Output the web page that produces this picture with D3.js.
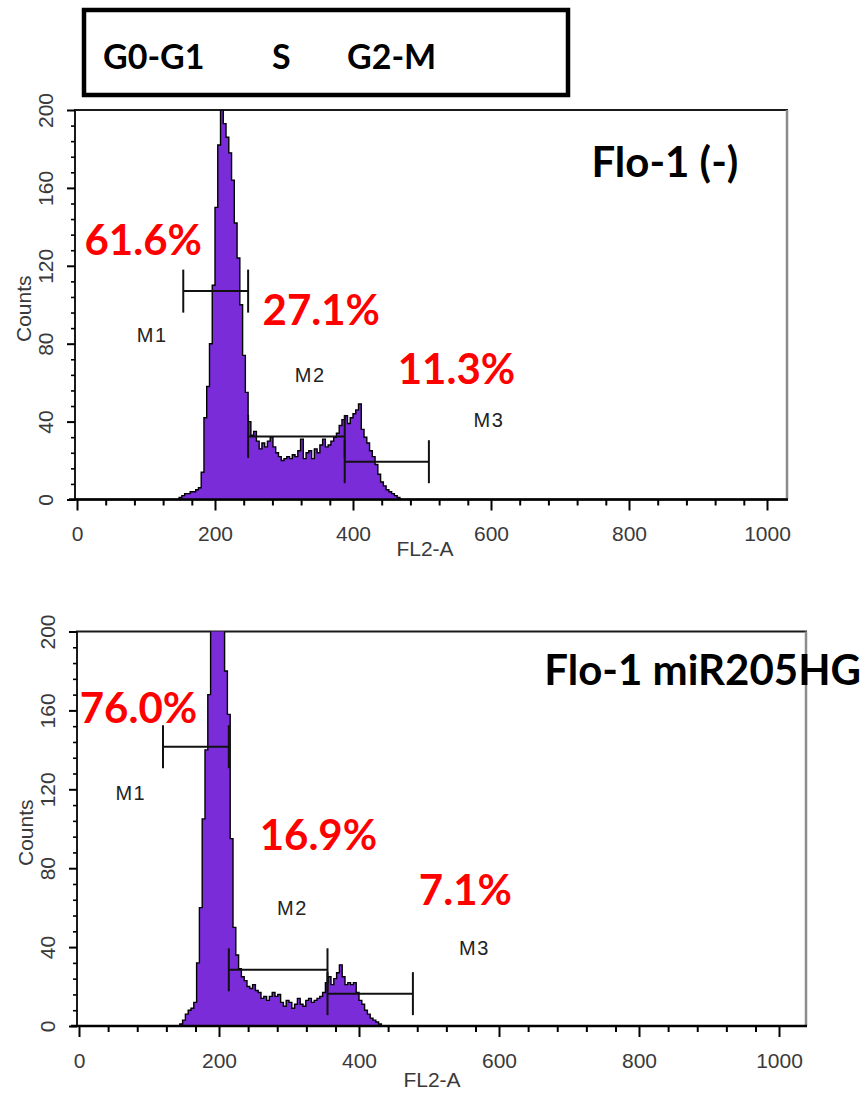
<!DOCTYPE html>
<html>
<head>
<meta charset="utf-8">
<script src="https://cdn.jsdelivr.net/npm/d3@7"></script>
<style>
  html, body { margin: 0; padding: 0; background: #fff; }
  svg { display: block; }
</style>
</head>
<body>
<svg id="chart" width="866" height="1098"></svg>
<script>
// Cell-cycle phases named in the legend box
const phases = ["G0-G1", "S", "G2-M"];

// FL2-A DNA-content histograms, channel bins of width 4
const binWidth = 4;

const ctrlStart = 148;
const ctrlCounts = [
  1, 2, 3, 3, 4, 4, 5, 6, 14, 42, 58, 80, 110, 150, 182, 200,
  193, 186, 178, 164, 142, 124, 100, 74, 55, 40, 33, 35, 30, 26, 29, 27,
  30, 32, 27, 24, 22, 20, 21, 22, 21, 23, 22, 25, 31, 21, 24, 25,
  21, 26, 24, 28, 31, 27, 28, 30, 32, 34, 38, 41, 43, 39, 42, 44,
  46, 49, 36, 32, 29, 25, 22, 18, 13, 9, 7, 5, 4, 3, 2, 1, 0
];

const mirStart = 144;
const mirCounts = [
  1, 3, 6, 8, 9, 12, 32, 60, 105, 140, 168, 215, 230, 230, 220, 205,
  180, 158, 95, 50, 36, 29, 25, 23, 20, 19, 21, 18, 17, 14, 15, 13,
  15, 17, 15, 16, 12, 10, 13, 12, 9, 11, 14, 11, 10, 13, 14, 12,
  13, 14, 15, 17, 22, 25, 21, 24, 27, 31, 25, 21, 22, 21, 22, 17,
  13, 11, 8, 6, 4, 3, 2, 1, 0
];

// Marker gates: [from channel, to channel, drawn at count level]
const gateNames = ["M1", "M2", "M3"];
const ctrlGates = [[154, 248, 107], [248, 388, 32.4], [388, 510, 19.4]];
const mirGates = [[120, 214, 141.6], [214, 355, 28.5], [355, 477, 16.4]];

// Percentage of cells in each gate
const ctrlPercent = ["61.6%", "27.1%", "11.3%"];
const mirPercent = ["76.0%", "16.9%", "7.1%"];

const sampleNames = ["Flo-1 (-)", "Flo-1 miR205HG"];

// Axis ticks
const xMajorTicks = [0, 200, 400, 600, 800, 1000];
const yMajorTicks = [0, 40, 80, 120, 160, 200];
const xTitle = "FL2-A";
const yTitle = "Counts";

// ---- layout ----
const svg = d3.select("#chart");
const histFill = "#7a2cd8";
const red = "#ff0000";
const tickFont = "'Liberation Sans', Arial, sans-serif";
const boldFont = "Lato, 'Open Sans', sans-serif";
const tickColor = "#3a3a3a";

// legend box with phase names
svg.append("rect")
  .attr("x", 84).attr("y", 10).attr("width", 484).attr("height", 85)
  .attr("fill", "#fff").attr("stroke", "#000").attr("stroke-width", 4.5);
const phaseX = [103, 272, 347];
svg.selectAll("text.phase").data(phases).join("text")
  .attr("class", "phase")
  .attr("x", (d, i) => phaseX[i]).attr("y", 69)
  .style("font-family", boldFont).style("font-weight", 700)
  .style("font-size", "34px").attr("fill", "#000")
  .text(d => d);

const panels = [
  {
    name: sampleNames[0], start: ctrlStart, counts: ctrlCounts,
    gates: ctrlGates, pct: ctrlPercent,
    left: 75, right: 787, top: 110, bottom: 499.5, x0: 77, pxPerUnit: 0.69,
    xTitleGap: 56,
    pctPos: [[96, 125.5], [354, 89.6], [550, 59.3]],
    gatePos: [[109, 80.9], [338, 60.3], [597, 37.2]],
    titlePos: [852, 165.6]
  },
  {
    name: sampleNames[1], start: mirStart, counts: mirCounts,
    gates: mirGates, pct: mirPercent,
    left: 77, right: 806, top: 631.5, bottom: 1026, x0: 79, pxPerUnit: 0.70,
    xTitleGap: 61,
    pctPos: [[85, 153.6], [342, 89.2], [552, 61.3]],
    gatePos: [[74, 114.6], [305, 56.3], [565, 36]],
    titlePos: [891, 173]
  }
];

panels.forEach((p, pi) => {
  const x = d3.scaleLinear()
    .domain([(p.left - p.x0) / p.pxPerUnit, (p.right - p.x0) / p.pxPerUnit])
    .range([p.left, p.right]);
  const y = d3.scaleLinear().domain([0, 200]).range([p.bottom, p.top]);

  const g = svg.append("g");

  // plot frame
  g.append("rect")
    .attr("x", p.left).attr("y", p.top)
    .attr("width", p.right - p.left).attr("height", p.bottom - p.top)
    .attr("fill", "#fff").attr("stroke", "#1a1a1a").attr("stroke-width", 2);
  g.append("line")
    .attr("x1", p.right).attr("x2", p.right).attr("y1", p.top).attr("y2", p.bottom)
    .attr("stroke", "#8c8c8c").attr("stroke-width", 2.5);

  const clipId = "clip" + pi;
  g.append("clipPath").attr("id", clipId).append("rect")
    .attr("x", p.left).attr("y", p.top)
    .attr("width", p.right - p.left).attr("height", p.bottom - p.top);

  // histogram bins
  const bins = p.counts.map((c, i) => [p.start + i * binWidth, c]);
  bins.push([p.start + p.counts.length * binWidth, 0]);
  const outlinePts = [[p.start, 0]].concat(bins);

  const area = d3.area()
    .x(d => x(d[0])).y0(y(0)).y1(d => y(d[1]))
    .curve(d3.curveStepAfter);
  const line = d3.line()
    .x(d => x(d[0])).y(d => y(d[1]))
    .curve(d3.curveStepAfter);

  const hg = g.append("g").attr("clip-path", `url(#${clipId})`);
  hg.append("path").attr("d", area(bins)).attr("fill", histFill);
  hg.append("path").attr("d", line(outlinePts))
    .attr("fill", "none").attr("stroke", "#000").attr("stroke-width", 1.4)
    .attr("stroke-linejoin", "miter");

  // x axis: minor and major ticks
  const xMinor = [];
  xMajorTicks.slice(0, -1).forEach(m => [41.6, 83.2, 124.8, 166.4].forEach(o => xMinor.push(m + o)));
  g.append("g").attr("transform", `translate(0,${p.bottom})`)
    .call(d3.axisBottom(x).tickValues(xMinor).tickSize(6).tickFormat(""))
    .call(a => a.select(".domain").remove())
    .selectAll("line").attr("stroke", "#000").attr("stroke-width", 2);
  const xAx = g.append("g").attr("transform", `translate(0,${p.bottom})`)
    .call(d3.axisBottom(x).tickValues(xMajorTicks).tickSize(11).tickPadding(16)
      .tickFormat(d3.format("d")));
  xAx.select(".domain").remove();
  xAx.selectAll("line").attr("stroke", "#000").attr("stroke-width", 2);
  xAx.selectAll("text")
    .style("font-family", tickFont).style("font-size", "21px").style("fill", tickColor);

  // bottom axis line
  g.append("line")
    .attr("x1", p.left - 6).attr("x2", p.right + 1)
    .attr("y1", p.bottom).attr("y2", p.bottom)
    .attr("stroke", "#000").attr("stroke-width", 2.5);

  // y axis: minor and major ticks
  const yMinor = d3.range(0, 201, 8).filter(v => v % 40 !== 0);
  g.append("g").attr("transform", `translate(${p.left},0)`)
    .call(d3.axisLeft(y).tickValues(yMinor).tickSize(4).tickFormat(""))
    .call(a => a.select(".domain").remove())
    .selectAll("line").attr("stroke", "#000").attr("stroke-width", 1.6);
  const yAx = g.append("g").attr("transform", `translate(${p.left},0)`)
    .call(d3.axisLeft(y).tickValues(yMajorTicks).tickSize(8).tickFormat(d3.format("d")));
  yAx.select(".domain").remove();
  yAx.selectAll("line").attr("stroke", "#000").attr("stroke-width", 2);
  yAx.selectAll("text")
    .attr("x", 0).attr("y", 0).attr("dy", 0)
    .attr("text-anchor", "middle")
    .attr("transform", "translate(-22,0) rotate(-90)")
    .style("font-family", tickFont).style("font-size", "21px").style("fill", tickColor);

  // axis titles
  g.append("text")
    .attr("x", (p.left + x(1000)) / 2 + 4).attr("y", p.bottom + p.xTitleGap)
    .attr("text-anchor", "middle")
    .style("font-family", tickFont).style("font-size", "21px").style("fill", tickColor)
    .text(xTitle);
  g.append("text")
    .attr("transform", `translate(${p.left - 44},${(p.top + p.bottom) / 2 + 4}) rotate(-90)`)
    .attr("text-anchor", "middle")
    .style("font-family", tickFont).style("font-size", "21px").style("fill", tickColor)
    .text(yTitle);

  // marker gates
  const capHalf = 21.5;
  p.gates.forEach(([a, b, lvl]) => {
    const gy = y(lvl);
    g.append("line").attr("x1", x(a)).attr("x2", x(b)).attr("y1", gy).attr("y2", gy)
      .attr("stroke", "#111").attr("stroke-width", 2);
    [a, b].forEach(v => {
      g.append("line").attr("x1", x(v)).attr("x2", x(v))
        .attr("y1", gy - capHalf).attr("y2", gy + capHalf)
        .attr("stroke", "#111").attr("stroke-width", 2);
    });
  });

  // gate names
  g.selectAll("text.gate").data(gateNames).join("text")
    .attr("class", "gate")
    .attr("x", (d, i) => x(p.gatePos[i][0])).attr("y", (d, i) => y(p.gatePos[i][1]))
    .attr("text-anchor", "middle")
    .style("font-family", tickFont).style("font-size", "20px").style("letter-spacing", "1.5px")
    .style("fill", "#222")
    .text(d => d);

  // gate percentages
  g.selectAll("text.pct").data(p.pct).join("text")
    .attr("class", "pct")
    .attr("x", (d, i) => x(p.pctPos[i][0])).attr("y", (d, i) => y(p.pctPos[i][1]))
    .attr("text-anchor", "middle")
    .style("font-family", boldFont).style("font-weight", 700).style("font-size", "42px")
    .style("fill", red)
    .text(d => d);

  // sample name
  g.append("text")
    .attr("x", x(p.titlePos[0])).attr("y", y(p.titlePos[1]))
    .attr("text-anchor", "middle")
    .style("font-family", boldFont).style("font-weight", 700).style("font-size", "42px")
    .style("fill", "#000")
    .text(p.name);
});
</script>
</body>
</html>
